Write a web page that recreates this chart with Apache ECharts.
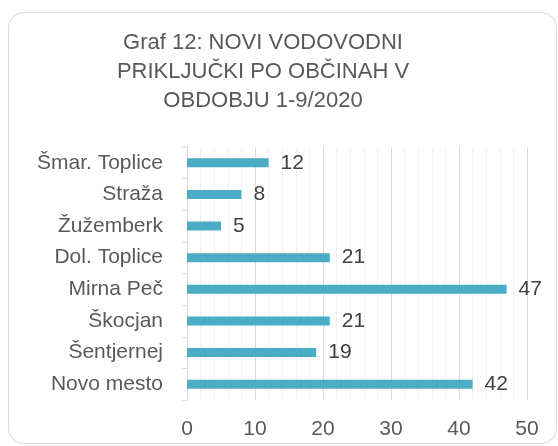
<!DOCTYPE html>
<html>
<head>
<meta charset="utf-8">
<script src="https://cdn.jsdelivr.net/npm/echarts@6/dist/echarts.min.js"></script>
<style>
  html, body { margin: 0; padding: 0; background: #fff; }
  #chart { width: 558px; height: 446px; }
</style>
</head>
<body>
<div id="chart"></div>
<script>
// obcine, od zgoraj navzdol
const categories = ['Šmar. Toplice', 'Straža', 'Žužemberk', 'Dol. Toplice', 'Mirna Peč', 'Škocjan', 'Šentjernej', 'Novo mesto']
const values = [12, 8, 5, 21, 47, 21, 19, 42]
const titleText = 'Graf 12: NOVI VODOVODNI\nPRIKLJUČKI PO OBČINAH V\nOBDOBJU 1-9/2020'

const font = '"Liberation Sans", Arial, sans-serif'
const chart = echarts.init(document.getElementById('chart'), null, { renderer: 'canvas' })

chart.setOption({
  animation: false,
  textStyle: { fontFamily: font },
  graphic: [{
    type: 'rect',
    shape: { x: 8.5, y: 12.5, width: 548, height: 431, r: 15 },
    style: { fill: 'none', stroke: '#D9D9D9', lineWidth: 1 },
    silent: true,
    z: -1
  }],
  title: {
    text: titleText,
    left: 258,
    top: 23,
    textAlign: 'center',
    textStyle: {
      fontFamily: font,
      fontSize: 22,
      fontWeight: 'normal',
      color: '#595959',
      lineHeight: 29
    }
  },
  grid: {
    left: 187,
    right: 31,
    top: 147,
    bottom: 46,
    containLabel: false
  },
  xAxis: {
    type: 'value',
    min: 0,
    max: 50,
    interval: 10,
    axisLine: { show: false },
    axisTick: { show: false },
    axisLabel: { color: '#595959', fontSize: 21, margin: 19, fontFamily: font },
    splitLine: { lineStyle: { color: '#D9D9D9', width: 1 } },
    minorTick: { show: false, splitNumber: 5 },
    minorSplitLine: { show: true, lineStyle: { color: '#EFEFEF', width: 1 } }
  },
  yAxis: {
    type: 'category',
    data: categories,
    inverse: true,
    axisLine: { lineStyle: { color: '#D9D9D9' } },
    axisTick: { show: true, length: 5, lineStyle: { color: '#D9D9D9' } },
    axisLabel: { color: '#595959', fontSize: 21, margin: 24, fontFamily: font }
  },
  series: [{
    type: 'bar',
    data: values,
    barWidth: 9,
    itemStyle: { color: '#4BACC6' },
    label: {
      show: true,
      position: 'right',
      distance: 12,
      color: '#404040',
      fontSize: 21,
      fontFamily: font
    }
  }]
})
</script>
</body>
</html>
